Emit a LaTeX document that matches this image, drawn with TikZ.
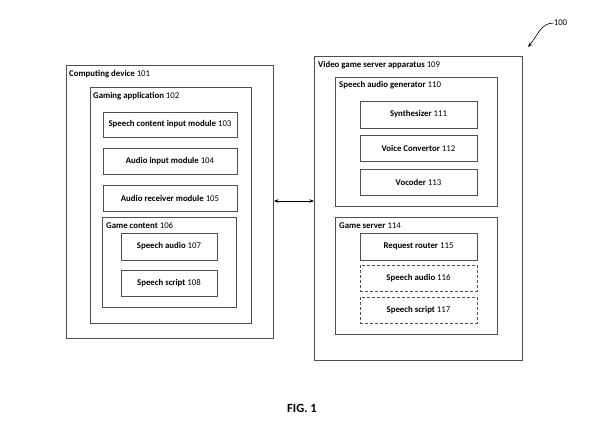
\documentclass[tikz,border=0pt]{standalone}
\usepackage{fontspec}
\setmainfont{Carlito}
\usetikzlibrary{arrows.meta}
\definecolor{linegray}{RGB}{80,80,80}
\tikzset{
  box/.style={draw=linegray, line width=0.9pt, rectangle, inner sep=0pt, font=\fontsize{8.8}{10}\selectfont},
  dbox/.style={box, dash pattern=on 3pt off 2pt},
  lbl/.style={anchor=west, inner sep=0pt, font=\fontsize{8.8}{10}\selectfont},
  tip/.style={-{Stealth[length=4.5pt,width=3.5pt]}},
}
\begin{document}
\begin{tikzpicture}[x=1pt,y=-1pt]
\useasboundingbox (0,0) rectangle (600,442);
% left side
\node[box, anchor=north west, minimum width=207pt, minimum height=273pt] (cd) at (66,65) {};
\node[lbl] (cdl) at (69,74) {\textbf{Computing device} 101};
\node[box, anchor=north west, minimum width=161pt, minimum height=236pt] (ga) at (90,87) {};
\node[lbl] (gal) at (93,96) {\textbf{Gaming application} 102};
\node[box, minimum width=134pt, minimum height=25pt] (scim) at (170,124.5) {\textbf{Speech content input module} 103};
\node[box, minimum width=134pt, minimum height=26pt] (aim) at (170,161) {\textbf{Audio input module} 104};
\node[box, minimum width=134pt, minimum height=26pt] (arm) at (170,198) {\textbf{Audio receiver module} 105};
\node[box, anchor=north west, minimum width=134pt, minimum height=90pt] (gc) at (102,217) {};
\node[lbl] (gcl) at (106,226) {\textbf{Game content} 106};
\node[box, minimum width=96pt, minimum height=27pt] (sa7) at (169,246.5) {\textbf{Speech audio} 107};
\node[box, minimum width=96pt, minimum height=26pt] (ss8) at (169,283) {\textbf{Speech script} 108};
% right side
\node[box, anchor=north west, minimum width=208pt, minimum height=304pt] (vg) at (314,56) {};
\node[lbl] (vgl) at (318,65) {\textbf{Video game server apparatus} 109};
\node[box, anchor=north west, minimum width=162pt, minimum height=129pt] (sag) at (335,77) {};
\node[lbl] (sagl) at (339,85) {\textbf{Speech audio generator} 110};
\node[box, minimum width=117pt, minimum height=27pt] (syn) at (418.5,114.5) {\textbf{Synthesizer} 111};
\node[box, minimum width=117pt, minimum height=26pt] (vc) at (418.5,148) {\textbf{Voice Convertor} 112};
\node[box, minimum width=117pt, minimum height=26pt] (voc) at (418.5,182) {\textbf{Vocoder} 113};
\node[box, anchor=north west, minimum width=162pt, minimum height=117pt] (gs) at (335,217) {};
\node[lbl] (gsl) at (339,226) {\textbf{Game server} 114};
\node[box, minimum width=117pt, minimum height=27pt] (rr) at (418.5,246.5) {\textbf{Request router} 115};
\node[dbox, minimum width=117pt, minimum height=26pt] (sa16) at (418.5,278) {\textbf{Speech audio} 116};
\node[dbox, minimum width=117pt, minimum height=26pt] (ss17) at (418.5,310) {\textbf{Speech script} 117};
% connector
\coordinate (la) at (cd.east |- 0,201);
\coordinate (ra) at (vg.west |- 0,201);
\draw[black, line width=0.7pt, {Stealth[length=4.5pt,width=3.5pt]}-{Stealth[length=4.5pt,width=3.5pt]}] (la) -- (ra);
% reference label
\node[inner sep=0pt, font=\fontsize{8.8}{10}\selectfont] (ref) at (560.5,23) {100};
\coordinate (reft) at (528,47);
\draw[black, line width=0.6pt, tip] (ref.west) .. controls (541,23) and (538,35) .. (reft);
% figure caption
\node[inner sep=0pt, font=\fontsize{12.5}{14}\selectfont\bfseries] (fig) at (302,408) {FIG. 1};
\end{tikzpicture}
\end{document}
